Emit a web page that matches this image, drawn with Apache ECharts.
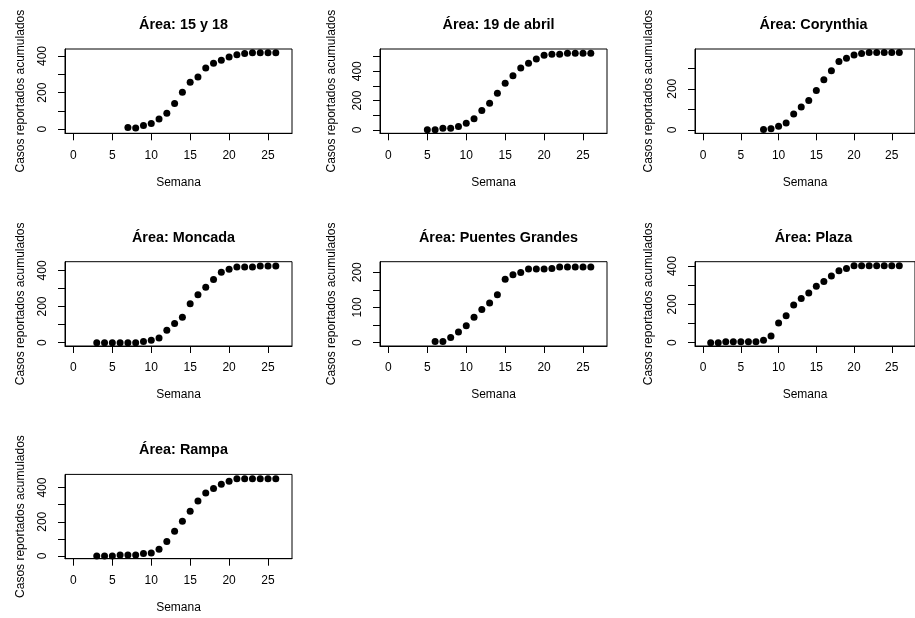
<!DOCTYPE html>
<html>
<head>
<meta charset="utf-8">
<script src="https://cdn.jsdelivr.net/npm/echarts@6/dist/echarts.min.js"></script>
<style>html,body{margin:0;padding:0;background:#fff;}#c{width:915px;height:618px;}</style>
</head>
<body>
<div id="c"></div>
<script>
// ---- Data ----
const titles = ["Área: 15 y 18", "Área: 19 de abril", "Área: Corynthia", "Área: Moncada", "Área: Puentes Grandes", "Área: Plaza", "Área: Rampa"];

const weeks15y18 = [7, 8, 9, 10, 11, 12, 13, 14, 15, 16, 17, 18, 19, 20, 21, 22, 23, 24, 25, 26];
const cases15y18 = [9, 7, 20, 31, 56, 87, 140, 202, 256, 285, 335, 360, 376, 395, 407, 413, 418, 418, 418, 418];

const weeks19abril = [5, 6, 7, 8, 9, 10, 11, 12, 13, 14, 15, 16, 17, 18, 19, 20, 21, 22, 23, 24, 25, 26];
const cases19abril = [2, 2, 11, 11, 23, 45, 77, 132, 182, 250, 318, 370, 423, 455, 484, 509, 516, 516, 523, 523, 523, 523];

const weeksCorynthia = [8, 9, 10, 11, 12, 13, 14, 15, 16, 17, 18, 19, 20, 21, 22, 23, 24, 25, 26];
const casesCorynthia = [2, 6, 18, 34, 78, 111, 143, 192, 244, 288, 332, 348, 364, 371, 376, 376, 376, 376, 376];

const weeksMoncada = [3, 4, 5, 6, 7, 8, 9, 10, 11, 12, 13, 14, 15, 16, 17, 18, 19, 20, 21, 22, 23, 24, 25, 26];
const casesMoncada = [0, 0, 0, 0, 0, 0, 6, 13, 26, 69, 106, 141, 215, 265, 307, 350, 389, 406, 419, 419, 419, 424, 424, 424];

const weeksPuentes = [6, 7, 8, 9, 10, 11, 12, 13, 14, 15, 16, 17, 18, 19, 20, 21, 22, 23, 24, 25, 26];
const casesPuentes = [3, 3, 15, 30, 48, 72, 94, 113, 136, 180, 193, 199, 209, 209, 209, 211, 215, 215, 215, 215, 215];

const weeksPlaza = [1, 2, 3, 4, 5, 6, 7, 8, 9, 10, 11, 12, 13, 14, 15, 16, 17, 18, 19, 20, 21, 22, 23, 24, 25, 26];
const casesPlaza = [0, 0, 5, 5, 5, 5, 5, 12, 35, 103, 140, 197, 231, 260, 295, 320, 348, 376, 388, 402, 402, 402, 402, 402, 402, 402];

const weeksRampa = [3, 4, 5, 6, 7, 8, 9, 10, 11, 12, 13, 14, 15, 16, 17, 18, 19, 20, 21, 22, 23, 24, 25, 26];
const casesRampa = [0, 0, 0, 6, 6, 6, 14, 18, 39, 85, 144, 203, 262, 321, 368, 394, 420, 437, 451, 451, 451, 451, 451, 451];

const xTickValues = [0, 5, 10, 15, 20, 25];
const yTicks = [
  [0, 100, 200, 300, 400],
  [0, 100, 200, 300, 400, 500],
  [0, 100, 200, 300],
  [0, 100, 200, 300, 400],
  [0, 50, 100, 150, 200],
  [0, 100, 200, 300, 400],
  [0, 100, 200, 300, 400]
];
const yLabels = [
  [0, 200, 400],
  [0, 200, 400],
  [0, 200],
  [0, 200, 400],
  [0, 100, 200],
  [0, 200, 400],
  [0, 200, 400]
];
const yRanges = [[-22, 438], [-23, 552], [-16, 393], [-18.5, 448], [-9.5, 230], [-17.5, 423], [-16, 477]];
const xRange = [-1.08, 28.08];

const weeksAll = [weeks15y18, weeks19abril, weeksCorynthia, weeksMoncada, weeksPuentes, weeksPlaza, weeksRampa];
const casesAll = [cases15y18, cases19abril, casesCorynthia, casesMoncada, casesPuentes, casesPlaza, casesRampa];

// ---- Layout ----
const FONT = "'Liberation Sans', Arial, sans-serif";
const boxW = 227, boxH = 84.3, colStep = 315, rowStep = 212.7, left0 = 65, top0 = 49;
const yNameGaps = [38, 42, 40];

const grids = [], xAxes = [], yAxes = [], series = [], titleArr = [];
for (let i = 0; i < 7; i++) {
  const r = Math.floor(i / 3), c = i % 3;
  const L = left0 + colStep * c, T = top0 + rowStep * r;
  grids.push({left: L, top: T, width: boxW, height: boxH, show: true, borderColor: '#000', borderWidth: 1, backgroundColor: 'transparent'});
  titleArr.push({text: titles[i], left: L + boxW / 2, top: T - 36, textAlign: 'center',
    textStyle: {fontFamily: FONT, fontSize: 14.4, fontWeight: 'bold', color: '#000'}});
  xAxes.push({type: 'value', gridIndex: i, min: xRange[0], max: xRange[1],
    axisLine: {show: true, onZero: false, lineStyle: {color: '#000', width: 1}},
    splitLine: {show: false},
    axisTick: {show: true, length: 7, customValues: xTickValues, lineStyle: {color: '#000'}},
    axisLabel: {customValues: xTickValues, margin: 16, fontSize: 12, color: '#000', fontFamily: FONT},
    name: 'Semana', nameLocation: 'middle', nameGap: 43,
    nameTextStyle: {fontSize: 12, color: '#000', fontFamily: FONT}});
  yAxes.push({type: 'value', gridIndex: i, min: yRanges[i][0], max: yRanges[i][1],
    axisLine: {show: true, onZero: false, lineStyle: {color: '#000', width: 1}},
    splitLine: {show: false},
    axisTick: {show: true, length: 7, customValues: yTicks[i], lineStyle: {color: '#000'}},
    axisLabel: {customValues: yLabels[i], rotate: 90, margin: 16, fontSize: 12, color: '#000', fontFamily: FONT},
    name: 'Casos reportados acumulados', nameLocation: 'middle', nameGap: yNameGaps[c],
    nameTextStyle: {fontSize: 12, color: '#000', fontFamily: FONT}});
  series.push({type: 'scatter', xAxisIndex: i, yAxisIndex: i, symbol: 'circle', symbolSize: 7,
    itemStyle: {color: '#000', opacity: 1}, silent: true, animation: false,
    data: weeksAll[i].map((w, k) => [w, casesAll[i][k]])});
}

const chart = echarts.init(document.getElementById('c'), null, {renderer: 'canvas'});
chart.setOption({
  backgroundColor: '#fff',
  animation: false,
  title: titleArr,
  grid: grids,
  xAxis: xAxes,
  yAxis: yAxes,
  series: series
});
</script>
</body>
</html>
